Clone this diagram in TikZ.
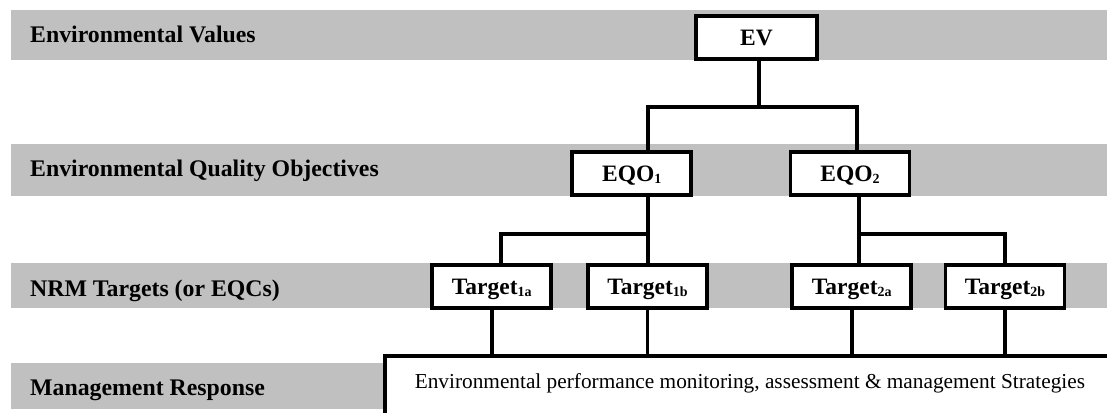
\documentclass[tikz,border=0pt]{standalone}
\usepackage{fontspec}
\setmainfont{Liberation Serif}
\definecolor{bandgray}{HTML}{C0C0C0}
\newcommand{\subidx}[1]{\raisebox{-2pt}{\fontsize{14}{14}\selectfont#1}}
\begin{document}
\begin{tikzpicture}[x=1pt,y=-1pt,
 band/.style={fill=bandgray,draw=none},
 rowlabel/.style={anchor=base west,inner sep=0pt,font=\bfseries\fontsize{23.8}{28}\selectfont},
 levelbox/.style={draw,line width=3.6pt,fill=white,minimum width=119pt,minimum height=43pt,inner sep=0pt,text height=15.6pt,text depth=0pt,font=\bfseries\fontsize{23.5}{28}\selectfont},
 mgmtbox/.style={draw,line width=3.6pt,fill=white,anchor=north west,inner xsep=30pt,inner ysep=0pt,text height=32.7pt,text depth=90pt,font=\fontsize{21.3}{26}\selectfont},
 link/.style={line width=3.6pt}]
 \useasboundingbox(0,0) rectangle (1107,412);
 \clip(0,0) rectangle (1107,412);
 \fill[band](11,10) rectangle (1107,60);
 \fill[band](11,144) rectangle (1107,196);
 \fill[band](11,263) rectangle (1107,308);
 \fill[band](11,363) rectangle (1107,409);
 \node[rowlabel] (evlabel) at (30,42.3) {Environmental Values};
 \node[rowlabel] (eqolabel) at (30,176.7) {Environmental Quality Objectives};
 \node[rowlabel] (nrmlabel) at (30,296) {NRM Targets (or EQCs)};
 \node[rowlabel] (mrlabel) at (30,395.7) {Management Response};
 \node[levelbox,minimum width=121pt] (ev) at (756.5,37.5) {EV};
 \node[levelbox] (eqo1) at (631.7,173.5) {EQO\subidx{1}};
 \node[levelbox] (eqo2) at (850,173.5) {EQO\subidx{2}};
 \node[levelbox] (t1a) at (491.7,286.5) {Target\subidx{1a}};
 \node[levelbox] (t1b) at (647.5,286.5) {Target\subidx{1b}};
 \node[levelbox] (t2a) at (851.7,286.5) {Target\subidx{2a}};
 \node[levelbox] (t2b) at (1005,286.5) {Target\subidx{2b}};
 \node[mgmtbox] (mgmt) at (383,354) {Environmental performance monitoring, assessment \& management Strategies};
 \coordinate (evjoin) at (759,107);
 \coordinate (eqo1join) at (648,234);
 \coordinate (eqo2join) at (859,234);
 \draw[link](ev.south-|evjoin)--(evjoin);
 \draw[link](eqo1.north-|eqo1join)|-(evjoin)-|([xshift=7pt]eqo2.north);
 \draw[link](eqo1.south-|eqo1join)--(t1b.north-|eqo1join);
 \draw[link](eqo1join)-|([xshift=9pt]t1a.north);
 \draw[link](eqo2.south-|eqo2join)--(t2a.north-|eqo2join);
 \draw[link](eqo2join)-|(t2b.north);
 \draw[link](t1a.south)--(t1a.south|-mgmt.north);
 \draw[link](t1b.south)--(t1b.south|-mgmt.north);
 \draw[link](t2a.south)--(t2a.south|-mgmt.north);
 \draw[link](t2b.south)--(t2b.south|-mgmt.north);
\end{tikzpicture}
\end{document}
